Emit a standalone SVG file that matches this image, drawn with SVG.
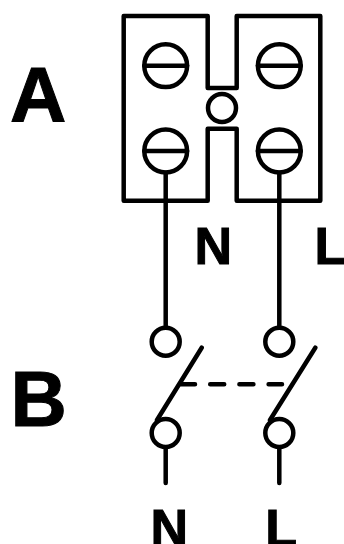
<svg xmlns="http://www.w3.org/2000/svg" width="344" height="544" viewBox="0 0 344 544">
<style>
.l{fill:none;stroke:#000;stroke-width:4.5;stroke-linecap:round;stroke-linejoin:round}
.big{font:bold 78px "Liberation Sans",Arial,sans-serif;fill:#000;stroke:#000;stroke-width:1}
.lab{font:bold 52px "Liberation Sans",Arial,sans-serif;fill:#000;stroke:#000;stroke-width:1}
</style>
<rect width="344" height="544" fill="#fff"/>
<g id="terminal-block">
<path class="l" d="M207.7 88V16H123.7V200.7H207.7V128.7H236.7V200.7H320.3V16H236.7V88Z"/>
<circle class="l" cx="222" cy="108" r="14"/>
</g>
<g id="screw-tl"><circle class="l" cx="165.7" cy="65.7" r="21.4"/><path class="l" d="M144.3 65.7H187.1"/></g>
<g id="screw-tr"><circle class="l" cx="279.3" cy="65.7" r="21.4"/><path class="l" d="M257.9 65.7H300.7"/></g>
<g id="screw-bl"><circle class="l" cx="165.7" cy="151" r="21.4"/><path class="l" d="M144.3 151H187.1"/></g>
<g id="screw-br"><circle class="l" cx="279.3" cy="151" r="21.4"/><path class="l" d="M257.9 151H300.7"/></g>
<g id="connectors">
<path class="l" d="M165.7 172.7V327M279.3 172.7V327"/>
<path class="l" d="M165.7 448V483M279.3 448V483"/>
<path class="l" d="M157 420L201.7 347.7M270 420L315.3 347.7"/>
<path class="l" style="stroke-width:4.5;stroke-dasharray:14 15.2" d="M181 384.3H282"/>
</g>
<g id="switch-nodes">
<circle class="l" cx="165.7" cy="341.7" r="14"/>
<circle class="l" cx="279.3" cy="341.7" r="14"/>
<circle class="l" cx="165.7" cy="433" r="14"/>
<circle class="l" cx="279.3" cy="433" r="14"/>
</g>
<g id="labels">
<text class="big" x="10" y="122">A</text>
<text class="big" x="10.5" y="426.2">B</text>
<text class="lab" x="194.6" y="263.5">N</text>
<text class="lab" x="314.6" y="263.5">L</text>
<text class="lab" x="150.6" y="546">N</text>
<text class="lab" x="265.3" y="546">L</text>
</g>
</svg>
